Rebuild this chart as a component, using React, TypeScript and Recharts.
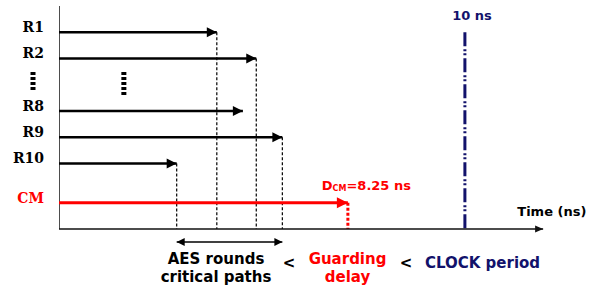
import { ComposedChart, Line, XAxis, YAxis, ReferenceDot } from "recharts"

// timing rows, top to bottom
const rowNames = ["R1", "R2", "R8", "R9", "R10", "CM"]
const rowLevels = [7.5, 6.5, 4.5, 3.5, 2.5, 1]
const pathDelays = [6.29, 6.88, 6.68, 7.27, 5.69, 8.25] // ns, end of each path
const guideRows = ["R1", "R2", "R9", "R10"]

// "..." between R2 and R8
const ellipsisLevel = 5.64
const ellipsisSpan = [5.98, 5.11]
const ellipsisTime = 4.9

const timeStart = 3.93
const timeAxisEnd = 11.17
const timeView = [3.93, 12.14]
const levelView = [-2.287, 8.727]
const axisTop = 8.5
const clockPeriod = 10
const cmDelay = 8.25
const spanLevel = -0.5

const RED = "#ff0000"
const NAVY = "#12126b"
const SANS = "DejaVu Sans, sans-serif"

function arrowDot(color: string, len: number, half: number, both = false) {
  return (p: any) => {
    const { cx, cy, index } = p
    if (index === 1) {
      return <polygon key={`a${index}`} points={`${cx},${cy} ${cx - len},${cy - half} ${cx - len},${cy + half}`} fill={color} />
    }
    if (both && index === 0) {
      return <polygon key={`a${index}`} points={`${cx},${cy} ${cx + len},${cy - half} ${cx + len},${cy + half}`} fill={color} />
    }
    return <g key={`a${index}`} />
  }
}

function note(text: any, color: string, size: number, anchor: "start" | "middle" | "end" = "middle") {
  return (p: any) => (
    <text
      x={p.cx}
      y={p.cy}
      textAnchor={anchor}
      dominantBaseline="central"
      fill={color}
      fontSize={size}
      fontWeight="bold"
      fontFamily={SANS}
    >
      {text}
    </text>
  )
}

function RowTick(props: any) {
  const { x, y, payload } = props
  if (Math.abs(payload.value - ellipsisLevel) < 1e-6) {
    return <line x1={x - 11} x2={x - 11} y1={y - 9} y2={y + 9} stroke="#000" strokeWidth={5} strokeDasharray="3 2" />
  }
  const i = rowLevels.findIndex((l) => Math.abs(l - payload.value) < 1e-6)
  const name = rowNames[i]
  return (
    <text x={x} y={y} textAnchor="end" fill={name === "CM" ? RED : "#000"} fontSize={14} fontWeight="bold" fontFamily="DejaVu Serif, serif">
      {name}
    </text>
  )
}

export default function App() {
  const seg = (a: [number, number], b: [number, number]) => [
    { t: a[0], v: a[1] },
    { t: b[0], v: b[1] },
  ]
  const ticks = [...rowLevels, ellipsisLevel].sort((a, b) => a - b)

  return (
    <div style={{ width: 608, height: 289 }}>
      <style>{`body{margin:0}`}</style>
      <ComposedChart width={608} height={289} margin={{ top: 0, right: 0, bottom: 0, left: 0 }}>
        <XAxis type="number" dataKey="t" domain={timeView} allowDataOverflow hide />
        <YAxis
          type="number"
          dataKey="v"
          domain={levelView}
          allowDataOverflow
          ticks={ticks}
          interval={0}
          tick={<RowTick />}
          tickSize={0}
          tickMargin={15}
          axisLine={false}
          tickLine={false}
          width={59}
        />

        {/* dotted guides from path ends down to the time axis */}
        {rowNames.map((name, i) =>
          guideRows.includes(name) ? (
            <Line
              key={`g${name}`}
              data={seg([pathDelays[i], rowLevels[i]], [pathDelays[i], 0])}
              dataKey="v"
              stroke="#000"
              strokeWidth={1.2}
              strokeDasharray="3 2"
              dot={false}
              activeDot={false}
              isAnimationActive={false}
            />
          ) : null
        )}
        <Line
          data={seg([cmDelay, 1], [cmDelay, 0])}
          dataKey="v"
          stroke={RED}
          strokeWidth={3}
          strokeDasharray="3 2"
          dot={false}
          activeDot={false}
          isAnimationActive={false}
        />

        {/* clock period */}
        <Line
          data={seg([clockPeriod, 7.5], [clockPeriod, 0])}
          dataKey="v"
          stroke={NAVY}
          strokeWidth={3}
          strokeDasharray="14 3 2 2 2 3"
          dot={false}
          activeDot={false}
          isAnimationActive={false}
        />

        {/* axes */}
        <Line
          data={seg([timeStart, 0], [timeStart, axisTop])}
          dataKey="v"
          stroke="#4d4d4d"
          strokeWidth={2}
          dot={false}
          activeDot={false}
          isAnimationActive={false}
        />
        <Line
          data={seg([timeStart, 0], [timeAxisEnd, 0])}
          dataKey="v"
          stroke="#111"
          strokeWidth={1.5}
          dot={arrowDot("#111", 8, 3.5)}
          activeDot={false}
          isAnimationActive={false}
        />

        {/* paths */}
        {rowNames.map((name, i) => {
          const c = name === "CM" ? RED : "#000"
          return (
            <Line
              key={`p${name}`}
              data={seg([timeStart, rowLevels[i]], [pathDelays[i], rowLevels[i]])}
              dataKey="v"
              stroke={c}
              strokeWidth={name === "CM" ? 3 : 2.5}
              dot={name === "CM" ? arrowDot(c, 11, 5.5) : arrowDot(c, 10, 5)}
              activeDot={false}
              isAnimationActive={false}
            />
          )
        })}

        <Line
          data={seg([ellipsisTime, ellipsisSpan[0]], [ellipsisTime, ellipsisSpan[1]])}
          dataKey="v"
          stroke="#000"
          strokeWidth={5}
          strokeDasharray="3 2"
          dot={false}
          activeDot={false}
          isAnimationActive={false}
        />

        {/* span of the AES critical paths */}
        <Line
          data={seg([pathDelays[4], spanLevel], [pathDelays[3], spanLevel])}
          dataKey="v"
          stroke="#000"
          strokeWidth={1.5}
          dot={arrowDot("#000", 8, 4, true)}
          activeDot={false}
          isAnimationActive={false}
        />

        <ReferenceDot x={10.107} y={8.137} r={0} shape={note("10 ns", NAVY, 13)} />
        <ReferenceDot x={11.3} y={0.648} r={0} shape={note("Time (ns)", "#000", 13)} />
        <ReferenceDot
          x={7.86}
          y={1.677}
          r={0}
          shape={note(
            <>
              <tspan>D</tspan>
              <tspan fontSize={8} dy={3}>CM</tspan>
              <tspan dy={-3}>=8.25 ns</tspan>
            </>,
            RED,
            13,
            "start"
          )}
        />
        <ReferenceDot x={6.278} y={-1.143} r={0} shape={note("AES rounds", "#000", 15)} />
        <ReferenceDot x={6.278} y={-1.829} r={0} shape={note("critical paths", "#000", 15)} />
        <ReferenceDot x={7.37} y={-1.296} r={0} shape={note("<", "#000", 15)} />
        <ReferenceDot x={8.245} y={-1.143} r={0} shape={note("Guarding", RED, 15)} />
        <ReferenceDot x={8.245} y={-1.829} r={0} shape={note("delay", RED, 15)} />
        <ReferenceDot x={9.12} y={-1.296} r={0} shape={note("<", "#000", 15)} />
        <ReferenceDot x={10.264} y={-1.315} r={0} shape={note("CLOCK period", NAVY, 15)} />
      </ComposedChart>
    </div>
  )
}
